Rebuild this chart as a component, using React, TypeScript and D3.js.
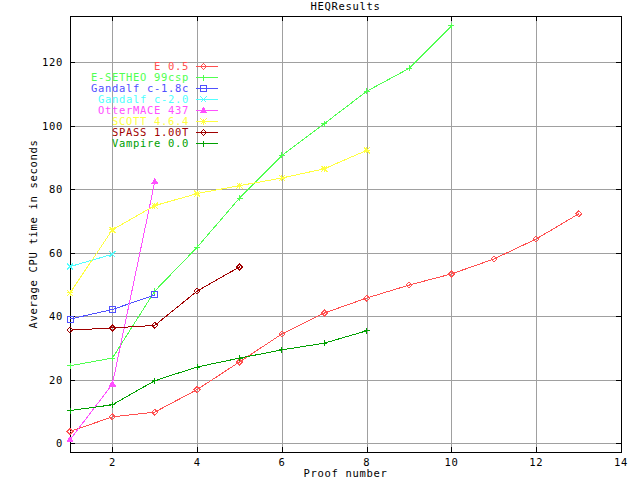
import React from "react";
import * as d3 from "d3";

const seriesNames = ["E 0.5", "E-SETHEO 99csp", "Gandalf c-1.8c", "Gandalf c-2.0", "OtterMACE 437", "SCOTT 4.6.4", "SPASS 1.00T", "Vampire 0.0"];
const seriesColors = ["#ff5050", "#50ff50", "#5050ff", "#50ffff", "#ff50ff", "#ffff40", "#a00000", "#00a000"];
const seriesMarkers = ["diamond", "plus", "box", "cross", "triangle", "star", "diamond", "plus"];

const eValues = [3.7, 8.3, 9.8, 16.9, 25.6, 34.4, 41.0, 45.7, 49.8, 53.3, 58.0, 64.3, 72.2];
const esetheoValues = [24.4, 26.8, 47.9, 61.7, 77.2, 90.6, 100.6, 110.8, 118.0, 131.4];
const gandalf18Values = [39.1, 42.1, 46.7];
const gandalf20Values = [55.6, 59.5];
const otterValues = [1.1, 18.6, 82.3];
const scottValues = [47.3, 67.2, 74.8, 78.6, 81.1, 83.5, 86.4, 92.2];
const spassValues = [35.6, 36.3, 37.1, 47.9, 55.5];
const vampireValues = [10.3, 12.1, 19.7, 24.0, 26.8, 29.4, 31.5, 35.4];

const allValues = [eValues, esetheoValues, gandalf18Values, gandalf20Values, otterValues, scottValues, spassValues, vampireValues];

const xTicks = [2, 4, 6, 8, 10, 12, 14];
const yTicks = [0, 20, 40, 60, 80, 100, 120];

const FONT = "'DejaVu Sans Mono', 'Liberation Mono', monospace";

function Marker({ type, x, y, color }: { type: string; x: number; y: number; color: string }) {
  const s = 3;
  let d = "";
  if (type === "diamond") d = `M${x - s},${y}L${x},${y - s}L${x + s},${y}L${x},${y + s}Z M${x - 0.5},${y}L${x + 0.5},${y}`;
  else if (type === "plus") d = `M${x - s},${y}L${x + s},${y}M${x},${y - s}L${x},${y + s}`;
  else if (type === "box") d = `M${x - s},${y - s}L${x + s},${y - s}L${x + s},${y + s}L${x - s},${y + s}Z`;
  else if (type === "cross") d = `M${x - s},${y - s}L${x + s},${y + s}M${x - s},${y + s}L${x + s},${y - s}`;
  else if (type === "triangle") d = `M${x - s},${y + 2}L${x},${y - s}L${x + s},${y + 2}Z`;
  else if (type === "star") d = `M${x - s},${y}L${x + s},${y}M${x},${y - s}L${x},${y + s}M${x - s},${y - s}L${x + s},${y + s}M${x - s},${y + s}L${x + s},${y - s}`;
  return (
    <path d={d} fill={type === "triangle" ? color : "none"} stroke={color} strokeWidth={1} shapeRendering="crispEdges" />
  );
}

export default function App() {
  const W = 640, H = 480;
  const left = 70, right = 621, top = 16, bottom = 451.5;
  const x = d3.scaleLinear().domain([1, 14]).range([left, right]);
  const y = d3.scaleLinear().domain([-2.6, 134.5]).range([bottom, top]);
  const line = d3.line<[number, number]>().x((d) => x(d[0])).y((d) => y(d[1]));
  const tick = 5;

  return (
    <svg width={W} height={H} style={{ position: "absolute", left: 0, top: 0, background: "#fff" }} fontFamily={FONT} fontSize={10.5} letterSpacing={0.68}>
      <rect x={0} y={0} width={W} height={H} fill="#fff" />
      {/* grid */}
      {xTicks.filter((t) => t < 14).map((t) => (
        <line key={"gx" + t} x1={Math.round(x(t)) + 0.5} x2={Math.round(x(t)) + 0.5} y1={top} y2={bottom} stroke="#a0a0a0" strokeWidth={1} shapeRendering="crispEdges" />
      ))}
      {yTicks.map((t) => (
        <line key={"gy" + t} x1={left} x2={right} y1={Math.round(y(t)) + 0.5} y2={Math.round(y(t)) + 0.5} stroke="#a0a0a0" strokeWidth={1} shapeRendering="crispEdges" />
      ))}
      {/* border */}
      <rect x={left + 0.5} y={top + 0.5} width={right - left} height={bottom - top} fill="none" stroke="#000" strokeWidth={1} shapeRendering="crispEdges" />
      {/* ticks */}
      {xTicks.map((t) => (
        <g key={"tx" + t}>
          <line x1={Math.round(x(t)) + 0.5} x2={Math.round(x(t)) + 0.5} y1={bottom} y2={bottom - tick} stroke="#000" shapeRendering="crispEdges" />
          <line x1={Math.round(x(t)) + 0.5} x2={Math.round(x(t)) + 0.5} y1={top} y2={top + tick} stroke="#000" shapeRendering="crispEdges" />
          <text x={x(t)} y={466} textAnchor="middle" fill="#000">{t}</text>
        </g>
      ))}
      {yTicks.map((t) => (
        <g key={"ty" + t}>
          <line x1={left} x2={left + tick} y1={Math.round(y(t)) + 0.5} y2={Math.round(y(t)) + 0.5} stroke="#000" shapeRendering="crispEdges" />
          <line x1={right} x2={right - tick} y1={Math.round(y(t)) + 0.5} y2={Math.round(y(t)) + 0.5} stroke="#000" shapeRendering="crispEdges" />
          <text x={63} y={y(t) + 4} textAnchor="end" fill="#000">{t}</text>
        </g>
      ))}
      {/* labels */}
      <text x={345.5} y={10} textAnchor="middle" fill="#000">HEQResults</text>
      <text x={345.5} y={477} textAnchor="middle" fill="#000">Proof number</text>
      <text transform={`translate(37,234) rotate(-90)`} textAnchor="middle" fill="#000">Average CPU time in seconds</text>
      {/* series */}
      {allValues.map((vals, i) => {
        const pts: [number, number][] = vals.map((v, j) => [j + 1, v]);
        return (
          <g key={"s" + i}>
            <path d={line(pts) || ""} fill="none" stroke={seriesColors[i]} strokeWidth={1} shapeRendering="crispEdges" />
            {pts.map((p, j) => (
              <Marker key={j} type={seriesMarkers[i]} x={x(p[0])} y={y(p[1])} color={seriesColors[i]} />
            ))}
          </g>
        );
      })}
      {/* legend */}
      {seriesNames.map((n, i) => {
        const ly = 66 + i * 11;
        return (
          <g key={"l" + i}>
            <text x={189} y={ly + 4} textAnchor="end" fill={seriesColors[i]}>{n}</text>
            <line x1={196} x2={218} y1={ly + 0.5} y2={ly + 0.5} stroke={seriesColors[i]} strokeWidth={1} shapeRendering="crispEdges" />
            <Marker type={seriesMarkers[i]} x={203.5} y={ly + 0.5} color={seriesColors[i]} />
          </g>
        );
      })}
    </svg>
  );
}
